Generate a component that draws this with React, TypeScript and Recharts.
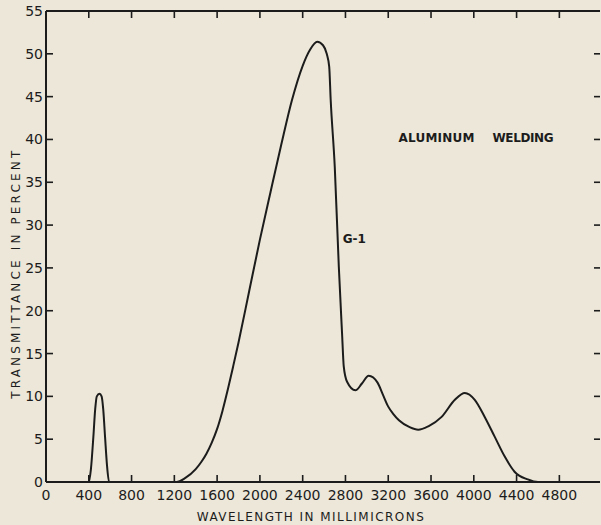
import { LineChart, Line, XAxis, YAxis, ReferenceDot } from "recharts";

const wavelength = [
  0, 400, 420, 443, 460, 475, 500, 520, 535, 552, 570, 590, 1000, 1220, 1300,
  1400, 1450, 1500, 1550, 1600, 1650, 1700, 1750, 1800, 1900, 2000, 2100, 2200,
  2300, 2400, 2470, 2536, 2590, 2625, 2648, 2662, 2700, 2738, 2768, 2784, 2815,
  2893, 2954, 3017, 3100, 3150, 3200, 3250, 3300, 3400, 3480, 3575, 3699, 3823,
  3916, 4009, 4102, 4195, 4288, 4381, 4505, 4600, 5180,
];
const transmittance = [
  0, 0, 1.5, 5.3, 8.5, 10, 10.3, 10, 8.5, 5.3, 2, 0, 0, 0, 0.45, 1.5, 2.3, 3.3,
  4.6, 6.2, 8.3, 10.8, 13.5, 16.3, 22.3, 28.3, 33.9, 39.4, 44.6, 48.6, 50.5,
  51.4, 51.0, 50.0, 48.5, 44.6, 36.8, 25.1, 17.4, 13.5, 11.7, 10.7, 11.5, 12.4,
  11.6, 10.2, 8.8, 7.9, 7.2, 6.4, 6.1, 6.5, 7.6, 9.6, 10.4, 9.6, 7.6, 5.3, 3.0,
  1.2, 0.3, 0, 0,
];
const xTicks = [0, 400, 800, 1200, 1600, 2000, 2400, 2800, 3200, 3600, 4000, 4400, 4800];
const yTicks = [0, 5, 10, 15, 20, 25, 30, 35, 40, 45, 50, 55];
const xMax = 5180;

const data = wavelength.map((w, i) => ({ w, t: transmittance[i] }));

const ink = "#1c1c1c";
const font = "'DejaVu Sans', sans-serif";

// eslint-disable-next-line @typescript-eslint/no-explicit-any
const LeftTick = ({ x, y, payload }: any) => (
  <g>
    {payload.value !== 0 && payload.value !== 55 && (
      <line x1={x} x2={x + 7} y1={y} y2={y} stroke={ink} strokeWidth={1.6} />
    )}
    <text x={x - 3} y={y} dy={5} textAnchor="end" fontSize={14} fontFamily={font} fill={ink}>
      {payload.value}
    </text>
  </g>
);

// eslint-disable-next-line @typescript-eslint/no-explicit-any
const BottomTick = ({ x, y, payload }: any) => (
  <g>
    {payload.value !== 0 && (
      <line x1={x} x2={x} y1={y} y2={y - 7} stroke={ink} strokeWidth={1.6} />
    )}
    <text x={x} y={y + 18} textAnchor="middle" fontSize={14} fontFamily={font} fill={ink}>
      {payload.value}
    </text>
  </g>
);

// eslint-disable-next-line @typescript-eslint/no-explicit-any
const TopTick = ({ x, y, payload }: any) =>
  payload.value === 0 ? <g /> : (
    <line x1={x} x2={x} y1={y} y2={y + 7} stroke={ink} strokeWidth={1.6} />
  );

// eslint-disable-next-line @typescript-eslint/no-explicit-any
const RightTick = ({ x, y, payload }: any) =>
  payload.value === 0 || payload.value === 55 ? <g /> : (
    <line x1={x} x2={x - 6} y1={y} y2={y} stroke={ink} strokeWidth={1.6} />
  );

export default function App() {
  return (
    <div style={{ position: "absolute", left: 0, top: 0, width: 601, height: 525, background: "#ece7d8" }}>
      <LineChart width={601} height={525} data={data} margin={{ top: 0, right: 0, bottom: 0, left: 0 }}>
        <XAxis
          dataKey="w"
          type="number"
          domain={[0, xMax]}
          ticks={xTicks}
          interval={0}
          height={43}
          tickSize={0}
          tickMargin={0}
          tick={<BottomTick />}
          axisLine={{ stroke: ink, strokeWidth: 2 }}
          label={{
            // eslint-disable-next-line @typescript-eslint/no-explicit-any
            content: ({ viewBox }: any) => (
              <text
                x={viewBox.x + viewBox.width * 0.477}
                y={viewBox.y + 39}
                textAnchor="middle"
                fontSize={12}
                fontFamily={font}
                fill={ink}
                textLength={227}
                lengthAdjust="spacing"
              >
                WAVELENGTH IN MILLIMICRONS
              </text>
            ),
          }}
        />
        <XAxis
          xAxisId="top"
          dataKey="w"
          type="number"
          orientation="top"
          domain={[0, xMax]}
          ticks={xTicks}
          interval={0}
          height={11}
          tickSize={0}
          tickMargin={0}
          tick={<TopTick />}
          axisLine={{ stroke: ink, strokeWidth: 2 }}
        />
        <YAxis
          type="number"
          domain={[0, 55]}
          ticks={yTicks}
          interval={0}
          width={46}
          tickSize={0}
          tickMargin={0}
          tick={<LeftTick />}
          axisLine={{ stroke: ink, strokeWidth: 2 }}
          label={{
            // eslint-disable-next-line @typescript-eslint/no-explicit-any
            content: ({ viewBox }: any) => {
              const cx = 16;
              const cy = viewBox.y + viewBox.height * 0.56;
              return (
                <text
                  x={cx}
                  y={cy}
                  transform={`rotate(-90 ${cx} ${cy})`}
                  textAnchor="middle"
                  dominantBaseline="central"
                  fontSize={12}
                  fontFamily={font}
                  fill={ink}
                  textLength={248}
                  lengthAdjust="spacing"
                >
                  TRANSMITTANCE IN PERCENT
                </text>
              );
            },
          }}
        />
        <YAxis
          yAxisId="right"
          type="number"
          orientation="right"
          domain={[0, 55]}
          ticks={yTicks}
          interval={0}
          width={1}
          tickSize={0}
          tickMargin={0}
          tick={<RightTick />}
          axisLine={false}
        />
        <Line
          xAxisId="top"
          yAxisId="right"
          dataKey="t"
          stroke="none"
          dot={false}
          activeDot={false}
          isAnimationActive={false}
        />
        <Line
          type="monotone"
          dataKey="t"
          stroke={ink}
          strokeWidth={2}
          dot={false}
          activeDot={false}
          isAnimationActive={false}
        />
        <ReferenceDot
          x={2882}
          y={28.5}
          r={0}
          label={{
            // eslint-disable-next-line @typescript-eslint/no-explicit-any
            content: ({ viewBox }: any) => (
              <text x={viewBox.x} y={viewBox.y} dy={5} textAnchor="middle" fontSize={12} fontWeight="bold" fontFamily={font} fill={ink}>
                G-1
              </text>
            ),
          }}
        />
        <ReferenceDot
          x={3296}
          y={40.3}
          r={0}
          label={{
            // eslint-disable-next-line @typescript-eslint/no-explicit-any
            content: ({ viewBox }: any) => (
              <g fontSize={12} fontWeight="bold" fontFamily={font} fill={ink}>
                <text x={viewBox.x} y={viewBox.y} dy={5} textLength={76} lengthAdjust="spacing">
                  ALUMINUM
                </text>
                <text x={viewBox.x + 94} y={viewBox.y} dy={5} textLength={61} lengthAdjust="spacing">
                  WELDING
                </text>
              </g>
            ),
          }}
        />
      </LineChart>
    </div>
  );
}
